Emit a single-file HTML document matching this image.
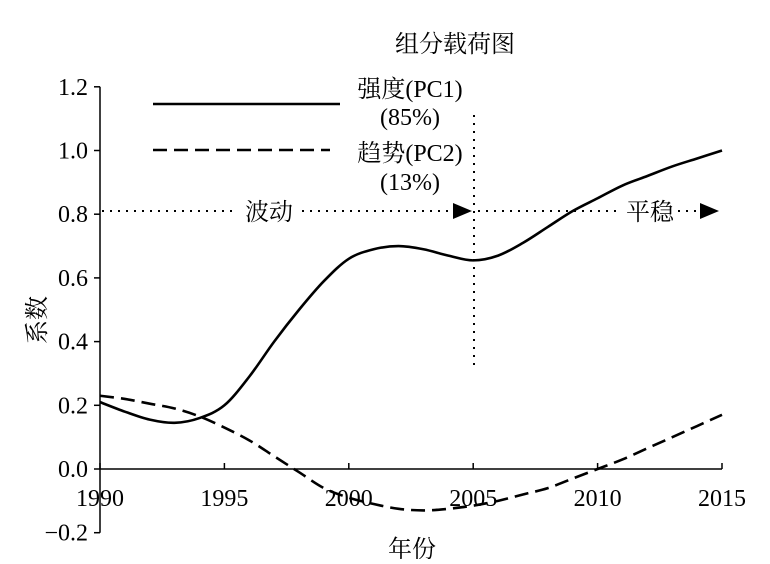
<!DOCTYPE html>
<html><head><meta charset="utf-8"><style>
body{margin:0;background:#fff}
svg text{font-family:"Liberation Serif","Noto Serif CJK SC",serif;fill:#000}
</style></head><body>
<svg id="chart" width="770" height="559" viewBox="0 0 770 559" xmlns="http://www.w3.org/2000/svg">
<text x="455" y="52" font-size="24" text-anchor="middle">组分载荷图</text>
<g id="axes"></g>
<g id="series"></g>
<g>
 <line x1="153" y1="104" x2="340" y2="104" stroke="#000" stroke-width="2.4"/>
 <line x1="153" y1="150" x2="330" y2="150" stroke="#000" stroke-width="2.6" stroke-dasharray="14,7"/>
 <text x="410" y="97" font-size="24" text-anchor="middle">强度(PC1)</text>
 <text x="410" y="125" font-size="24" text-anchor="middle">(85%)</text>
 <text x="410" y="161" font-size="24" text-anchor="middle">趋势(PC2)</text>
 <text x="410" y="190" font-size="24" text-anchor="middle">(13%)</text>
</g>
<g>
 <line x1="474" y1="115" x2="474" y2="370" stroke="#000" stroke-width="2" stroke-dasharray="2,6"/>
 <line x1="102" y1="211" x2="455" y2="211" stroke="#000" stroke-width="2" stroke-dasharray="2,6"/>
 <polygon points="453,203 472,211 453,219" fill="#000"/>
 <line x1="478" y1="211" x2="700" y2="211" stroke="#000" stroke-width="2" stroke-dasharray="2,6"/>
 <polygon points="700,203 719,211 700,219" fill="#000"/>
 <rect x="238" y="196" width="62" height="28" fill="#fff"/>
 <text x="269" y="220" font-size="24" text-anchor="middle">波动</text>
 <rect x="620" y="196" width="58" height="28" fill="#fff"/>
 <text x="650" y="220" font-size="24" text-anchor="middle">平稳</text>
</g>
<text x="412" y="557" font-size="24" text-anchor="middle">年份</text>
<text transform="translate(45,320) rotate(-90)" font-size="24" text-anchor="middle">系数</text>
</svg>
<script>
const years=[1990,1991,1992,1993,1994,1995,1996,1997,1998,1999,2000,2001,2002,2003,2004,2005,2006,2007,2008,2009,2010,2011,2012,2013,2014,2015];
const pc1=[0.21,0.18,0.155,0.145,0.16,0.2,0.29,0.40,0.50,0.59,0.66,0.69,0.70,0.69,0.67,0.655,0.67,0.71,0.76,0.81,0.85,0.89,0.92,0.95,0.975,1.0];
const pc2=[0.23,0.22,0.205,0.19,0.165,0.13,0.09,0.04,-0.01,-0.06,-0.09,-0.11,-0.125,-0.13,-0.125,-0.115,-0.10,-0.08,-0.06,-0.03,0.0,0.03,0.065,0.10,0.135,0.17];
const xTicks=[1990,1995,2000,2005,2010,2015];
const yTicks=[-0.2,0.0,0.2,0.4,0.6,0.8,1.0,1.2];
const NS="http://www.w3.org/2000/svg";
const X=v=>100+(v-1990)*(622/25);
const Y=v=>469-v*(318.5);
const axes=document.getElementById('axes'),series=document.getElementById('series');
function mk(t,a,p){const e=document.createElementNS(NS,t);for(const k in a)e.setAttribute(k,a[k]);p.appendChild(e);return e;}
let e=mk('line',{x1:100,y1:Y(1.2),x2:100,y2:Y(-0.2),stroke:'#000','stroke-width':1.5},axes);


e=mk('line',{x1:100,y1:Y(0),x2:722,y2:Y(0),stroke:'#000','stroke-width':1.5},axes);


yTicks.forEach(v=>{
 mk('line',{x1:94,y1:Y(v),x2:100,y2:Y(v),stroke:'#000','stroke-width':1.5},axes);
 const t=mk('text',{x:88,y:Y(v)+8,'font-size':24,'text-anchor':'end'},axes);
 t.textContent=(v<0?'\u2212':'')+Math.abs(v).toFixed(1);
 
 
});
xTicks.forEach(v=>{
 mk('line',{x1:X(v),y1:Y(0),x2:X(v),y2:Y(0)-6,stroke:'#000','stroke-width':1.5},axes);
 const t=mk('text',{x:X(v),y:506,'font-size':24,'text-anchor':'middle'},axes);
 t.textContent=v;
 
 
});
function smooth(vals){
 const p=years.map((y,i)=>[X(y),Y(vals[i])]);
 let d='M'+p[0][0]+','+p[0][1];
 for(let i=0;i<p.length-1;i++){
  const p0=p[Math.max(0,i-1)],p1=p[i],p2=p[i+1],p3=p[Math.min(p.length-1,i+2)];
  d+=' C'+(p1[0]+(p2[0]-p0[0])/6)+','+(p1[1]+(p2[1]-p0[1])/6)+' '+(p2[0]-(p3[0]-p1[0])/6)+','+(p2[1]-(p3[1]-p1[1])/6)+' '+p2[0]+','+p2[1];
 }
 return d;
}
e=mk('path',{d:smooth(pc1),fill:'none',stroke:'#000','stroke-width':2.6},series);


e=mk('path',{d:smooth(pc2),fill:'none',stroke:'#000','stroke-width':2.6,'stroke-dasharray':'14,7'},series);


</script>
</body></html>
